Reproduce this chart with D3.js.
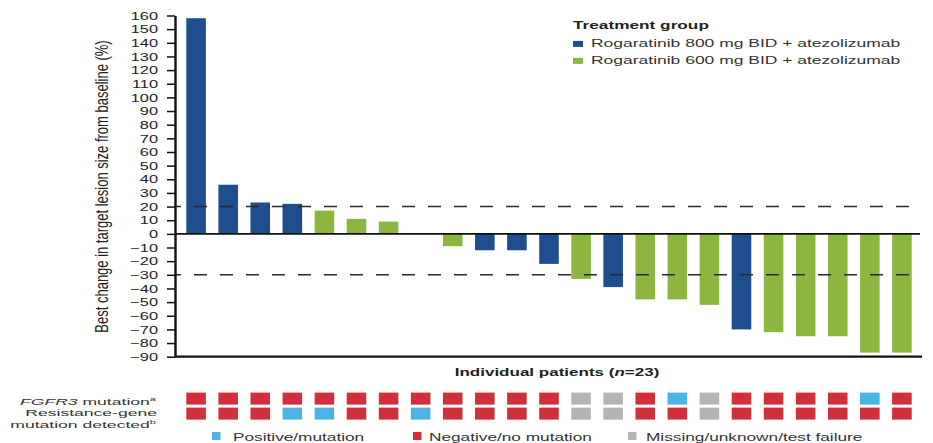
<!DOCTYPE html>
<html>
<head>
<meta charset="utf-8">
<script src="https://cdn.jsdelivr.net/npm/d3@7"></script>
<style>
  html, body { margin: 0; padding: 0; background: #fff; }
  svg { display: block; font-family: "Liberation Sans", Arial, Helvetica, sans-serif; }
</style>
</head>
<body>
<svg id="chart" width="933" height="443"></svg>
<script>
// Waterfall of best change in target lesion size per patient
const patientIds = ["1","2","3","4","5","6","7","8","9","10","11","12",
                    "13","14","15","16","17","18","19","20","21","22","23"];
const bestChange = [158, 36, 23, 22, 17, 11, 9, 0, -9, -12, -12, -22,
                    -33, -39, -48, -48, -52, -70, -72, -75, -75, -87, -87];
const doseGroup = ["800","800","800","800","600","600","600","600","600","800","800","800",
                   "600","800","600","600","600","800","600","600","600","600","600"];
// P = positive/mutation, N = negative/no mutation, M = missing/unknown/test failure
const fgfr3Status = ["N","N","N","N","N","N","N","N","N","N","N","N",
                     "M","M","N","P","M","N","N","N","N","P","N"];
const resistanceStatus = ["N","N","N","P","P","N","N","P","N","N","N","N",
                          "M","M","N","N","M","N","N","N","N","N","N"];
const yTicks = [-90,-80,-70,-60,-50,-40,-30,-20,-10,0,10,20,30,40,50,60,70,80,90,100,110,120,130,140,150,160];
const thresholds = [20, -30];
const doseLabels = {
  "800": "Rogaratinib 800 mg BID + atezolizumab",
  "600": "Rogaratinib 600 mg BID + atezolizumab"
};
const statusLabels = {
  "P": "Positive/mutation",
  "N": "Negative/no mutation",
  "M": "Missing/unknown/test failure"
};

const doseColor = d3.scaleOrdinal().domain(["800","600"]).range(["#1f4d8d","#8db641"]);
const statusColor = d3.scaleOrdinal().domain(["P","N","M"]).range(["#4db3e5","#d12f3b","#b4b4b4"]);

const svg = d3.select("#chart");
const axisX = 175, plotRight = 921;

const x = d3.scaleBand().domain(patientIds).range([177, 921]).paddingInner(0.39).paddingOuter(0.29);
const y = d3.scaleLinear().domain([-90, 160]).range([356.7, 15.5]);

// text drawn with a horizontal stretch
function stretchedText(parent, px, py, str, opts) {
  const g = parent.append("g").attr("transform", `translate(${px},${py}) scale(${opts.sx},1)`);
  const t = g.append("text")
    .attr("text-anchor", opts.anchor || "start")
    .attr("font-size", opts.size)
    .attr("font-weight", opts.weight || "normal")
    .attr("fill", opts.fill || "#2a2a2a");
  if (str !== null) t.text(str);
  return t;
}

// bars
svg.append("g").selectAll("rect")
  .data(patientIds)
  .join("rect")
  .attr("x", d => x(d))
  .attr("width", x.bandwidth())
  .attr("y", (d, i) => y(Math.max(0, bestChange[i])))
  .attr("height", (d, i) => Math.abs(y(bestChange[i]) - y(0)))
  .attr("fill", (d, i) => doseColor(doseGroup[i]));

// response thresholds
svg.append("g").selectAll("line")
  .data(thresholds)
  .join("line")
  .attr("x1", axisX + 1).attr("x2", plotRight - 1)
  .attr("y1", d => y(d)).attr("y2", d => y(d))
  .attr("stroke", "#2a2a2a").attr("stroke-width", 1.6)
  .attr("stroke-dasharray", "13 13").attr("stroke-dashoffset", 8);

// zero line and bottom frame
svg.append("line").attr("x1", axisX).attr("x2", plotRight - 1)
  .attr("y1", y(0)).attr("y2", y(0)).attr("stroke", "#111").attr("stroke-width", 1.6);
svg.append("line").attr("x1", axisX).attr("x2", plotRight + 1)
  .attr("y1", y(-90)).attr("y2", y(-90)).attr("stroke", "#111").attr("stroke-width", 2.2);

// y axis
const yAxis = svg.append("g").attr("transform", `translate(${axisX},0)`)
  .call(d3.axisLeft(y).tickValues(yTicks).tickSize(8).tickSizeOuter(0).tickPadding(9));
yAxis.select(".domain").attr("stroke", "#111").attr("stroke-width", 2.4);
yAxis.selectAll(".tick line").attr("stroke", "#111").attr("stroke-width", 1.5);
yAxis.selectAll(".tick text")
  .attr("x", 0)
  .attr("transform", "translate(-17,0) scale(1.42,1)")
  .attr("font-size", 11.5)
  .attr("font-family", "\"Liberation Sans\", Arial, sans-serif")
  .attr("fill", "#222");

// y axis title
svg.append("text")
  .attr("transform", "translate(108,186.5) rotate(-90) scale(1,1.4)")
  .attr("text-anchor", "middle")
  .attr("font-size", 13)
  .attr("fill", "#222")
  .text("Best change in target lesion size from baseline (%)");

// x axis title
const xt = stretchedText(svg, 557, 376, null, {sx: 1.48, size: 11.5, weight: "bold", anchor: "middle", fill: "#222"});
xt.append("tspan").text("Individual patients (");
xt.append("tspan").attr("font-style", "italic").text("n");
xt.append("tspan").text("=23)");

// treatment legend
stretchedText(svg, 573, 29.3, "Treatment group", {sx: 1.5, size: 11.5, weight: "bold", fill: "#222"});
const legendRows = ["800", "600"];
legendRows.forEach((k, i) => {
  const by = 46.7 + i * 17;
  svg.append("rect").attr("x", 573).attr("y", by - 5.8).attr("width", 10).attr("height", 6)
    .attr("fill", doseColor(k));
  stretchedText(svg, 591, by, doseLabels[k], {sx: 1.52, size: 11.5, fill: "#333"});
});

// biomarker grid
const gridRows = [
  {status: fgfr3Status, top: 392.6},
  {status: resistanceStatus, top: 407.6}
];
gridRows.forEach(row => {
  svg.append("g").selectAll("rect")
    .data(patientIds)
    .join("rect")
    .attr("x", d => x(d))
    .attr("y", row.top)
    .attr("width", x.bandwidth())
    .attr("height", 12)
    .attr("fill", (d, i) => statusColor(row.status[i]));
});

// grid row labels
const rowLabel = {sx: 1.85, size: 9.5, anchor: "end", fill: "#333"};
const l1 = stretchedText(svg, 156, 404.5, null, rowLabel);
l1.append("tspan").attr("font-style", "italic").text("FGFR3");
l1.append("tspan").text(" mutation");
l1.append("tspan").attr("font-size", 6).attr("dy", -4).text("a");
stretchedText(svg, 157, 416.3, "Resistance-gene", rowLabel);
const l3 = stretchedText(svg, 156, 428, null, rowLabel);
l3.append("tspan").text("mutation detected");
l3.append("tspan").attr("font-size", 6).attr("dy", -4).text("b");

// status legend
const statusKeys = ["P", "N", "M"];
const statusPos = [{sw: 212, tx: 233}, {sw: 413, tx: 429}, {sw: 628, tx: 646}];
statusKeys.forEach((k, i) => {
  svg.append("rect").attr("x", statusPos[i].sw).attr("y", 432).attr("width", 8.5).attr("height", 8)
    .attr("fill", statusColor(k));
  stretchedText(svg, statusPos[i].tx, 440.5, statusLabels[k], {sx: 1.5, size: 11.5, fill: "#333"});
});
</script>
</body>
</html>
